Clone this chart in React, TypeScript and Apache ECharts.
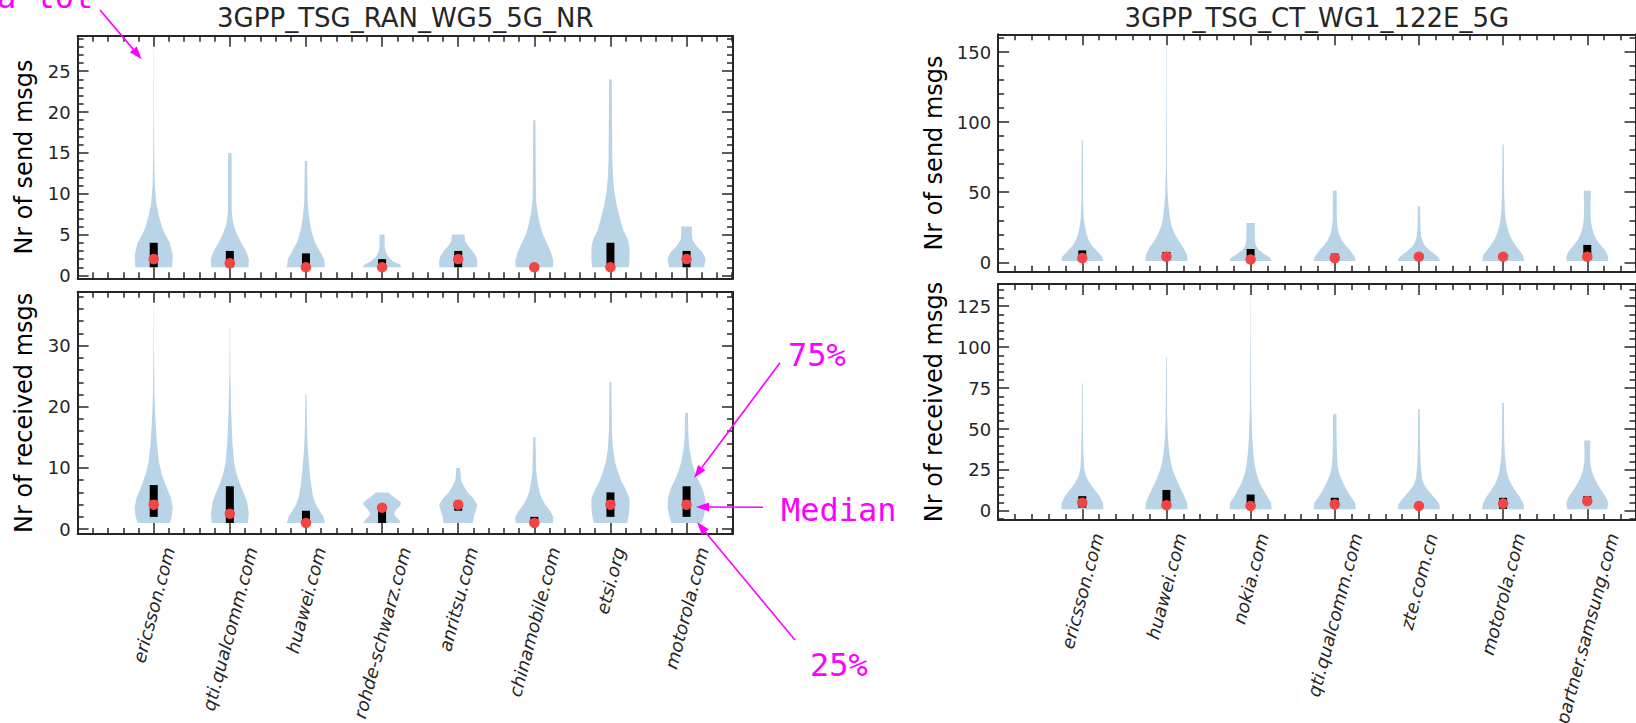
import React, { useEffect, useRef } from "react";
import * as echarts from "echarts";

// ---------------- data ----------------
const ranTitle = "3GPP_TSG_RAN_WG5_5G_NR";
const ctTitle = "3GPP_TSG_CT_WG1_122E_5G";
const sendName = "Nr of send msgs";
const recvName = "Nr of received msgs";

const ranCategories = ["ericsson.com", "qti.qualcomm.com", "huawei.com", "rohde-schwarz.com", "anritsu.com", "chinamobile.com", "etsi.org", "motorola.com"];
const ctCategories = ["ericsson.com", "huawei.com", "nokia.com", "qti.qualcomm.com", "zte.com.cn", "motorola.com", "partner.samsung.com"];

// violin outlines: [value, relative half width (1 = widest)]
const ranSendViolins = [
  [[1, 0.97], [2.5, 1.0], [4, 0.85], [5, 0.6], [6, 0.42], [7.5, 0.25], [9, 0.13], [11, 0.06], [14, 0.03], [20, 0.012], [28, 0.006]],
  [[1, 0.98], [2, 1.0], [3, 0.85], [4, 0.6], [5, 0.38], [6, 0.22], [7, 0.14], [8, 0.1], [15, 0.09]],
  [[1, 1.0], [2, 0.95], [3, 0.72], [4, 0.48], [5, 0.34], [6, 0.24], [7.5, 0.15], [9, 0.09], [14, 0.06]],
  [[1, 1.0], [1.3, 0.95], [1.7, 0.6], [2.2, 0.35], [2.8, 0.2], [3.5, 0.14], [5, 0.13]],
  [[1, 1.0], [1.8, 1.0], [2.4, 0.93], [3, 0.75], [3.6, 0.53], [4.2, 0.36], [5, 0.33]],
  [[1, 0.98], [1.8, 1.0], [3, 0.85], [4, 0.65], [5, 0.45], [6, 0.32], [7.5, 0.18], [9, 0.1], [11, 0.08], [19, 0.06]],
  [[1, 0.97], [2, 1.0], [3.5, 1.0], [4.5, 0.9], [5.5, 0.68], [7, 0.5], [8.5, 0.34], [10, 0.22], [11.5, 0.15], [14, 0.1], [24, 0.07]],
  [[1, 0.92], [2, 1.0], [2.8, 0.85], [3.5, 0.55], [4.3, 0.32], [5, 0.28], [6, 0.28]],
];
const ranSendQ1 = [1, 1, 1, 1, 1, 1, 1, 1];
const ranSendMedian = [2, 1.5, 1, 1, 2, 1, 1, 2];
const ranSendQ3 = [4, 3, 2.7, 2, 3, 1.1, 4, 3];

const ranRecvViolins = [
  [[1, 0.85], [2, 0.95], [3.5, 1.0], [5, 0.92], [7, 0.65], [9, 0.42], [11, 0.27], [14, 0.17], [18, 0.09], [22, 0.04], [30, 0.012], [37, 0.005]],
  [[1, 0.95], [2.5, 1.0], [4.5, 0.9], [6, 0.72], [7.5, 0.52], [9, 0.35], [11, 0.22], [14, 0.14], [19, 0.07], [25, 0.025], [33, 0.008]],
  [[1, 1.0], [2, 0.92], [3, 0.72], [4, 0.52], [5.5, 0.36], [7.5, 0.26], [10, 0.18], [13, 0.1], [17, 0.05], [22, 0.03]],
  [[1, 0.98], [1.5, 0.9], [2, 0.72], [2.6, 0.62], [3.2, 0.75], [3.8, 0.95], [4.3, 1.0], [5, 0.72], [5.6, 0.45], [6, 0.33]],
  [[1, 0.78], [2, 0.82], [3, 0.92], [4, 1.0], [5, 0.8], [6, 0.5], [7, 0.3], [8, 0.15], [10, 0.1]],
  [[1, 0.98], [2, 1.0], [3, 0.82], [4, 0.58], [5, 0.4], [6, 0.28], [7.5, 0.18], [9.5, 0.1], [15, 0.06]],
  [[1, 0.88], [2, 0.95], [3.5, 1.0], [5, 1.0], [6.5, 0.8], [8, 0.55], [9.5, 0.38], [11, 0.24], [13, 0.14], [16, 0.08], [24, 0.05]],
  [[1, 0.8], [2, 0.9], [3.5, 1.0], [5, 0.98], [6.5, 0.85], [8, 0.62], [9.5, 0.42], [11, 0.28], [13, 0.16], [15, 0.1], [19, 0.07]],
];
const ranRecvQ1 = [2, 1, 1, 1, 3, 1, 2, 2];
const ranRecvMedian = [4, 2.5, 1, 3.5, 4, 1, 4, 4];
const ranRecvQ3 = [7.2, 7, 3, 3.7, 4.2, 2, 6, 7];

const ctSendViolins = [
  [[1, 1.0], [4, 0.95], [8, 0.7], [12, 0.45], [16, 0.3], [20, 0.2], [26, 0.12], [32, 0.07], [45, 0.04], [87, 0.03]],
  [[1, 1.0], [5, 0.98], [10, 0.82], [15, 0.6], [20, 0.4], [25, 0.27], [30, 0.18], [40, 0.1], [50, 0.05], [70, 0.02], [155, 0.008]],
  [[1, 1.0], [3, 0.95], [6, 0.65], [9, 0.38], [12, 0.25], [15, 0.21], [20, 0.2], [28, 0.2]],
  [[1, 1.0], [4, 0.95], [8, 0.75], [12, 0.52], [16, 0.33], [20, 0.2], [25, 0.13], [30, 0.1], [51, 0.09]],
  [[1, 1.0], [3, 0.95], [5, 0.82], [8, 0.55], [11, 0.33], [14, 0.2], [18, 0.11], [25, 0.07], [40, 0.05]],
  [[1, 1.0], [5, 0.95], [9, 0.75], [13, 0.55], [17, 0.38], [22, 0.25], [28, 0.15], [35, 0.09], [50, 0.05], [84, 0.03]],
  [[1, 0.97], [4, 1.0], [8, 0.88], [12, 0.65], [16, 0.45], [20, 0.32], [25, 0.22], [30, 0.17], [40, 0.15], [51, 0.17]],
];
const ctSendQ1 = [2, 2, 1, 2, 3, 2, 2];
const ctSendMedian = [3, 4, 2, 3, 4, 4, 4];
const ctSendQ3 = [8.5, 7.4, 9.5, 6.2, 5, 5, 12.4];

const ctRecvViolins = [
  [[1, 1.0], [5, 0.98], [9, 0.82], [13, 0.58], [17, 0.35], [21, 0.18], [26, 0.09], [35, 0.05], [50, 0.03], [78, 0.02]],
  [[1, 1.0], [5, 0.98], [9, 0.85], [13, 0.7], [17, 0.55], [21, 0.42], [25, 0.3], [30, 0.2], [36, 0.13], [45, 0.07], [60, 0.03], [94, 0.015]],
  [[1, 1.0], [5, 0.97], [9, 0.78], [13, 0.6], [17, 0.43], [22, 0.3], [27, 0.21], [35, 0.13], [45, 0.08], [65, 0.03], [100, 0.012], [131, 0.006]],
  [[1, 1.0], [5, 0.97], [9, 0.75], [13, 0.55], [17, 0.4], [21, 0.26], [25, 0.17], [30, 0.12], [40, 0.09], [59, 0.08]],
  [[1, 1.0], [4, 0.97], [7, 0.82], [10, 0.6], [13, 0.4], [16, 0.25], [20, 0.14], [28, 0.08], [40, 0.05], [62, 0.04]],
  [[1, 1.0], [4, 0.97], [8, 0.82], [12, 0.6], [16, 0.4], [20, 0.26], [25, 0.16], [33, 0.09], [45, 0.05], [66, 0.04]],
  [[1, 0.95], [5, 1.0], [8, 0.9], [12, 0.7], [16, 0.5], [20, 0.34], [25, 0.2], [30, 0.14], [36, 0.13], [43, 0.15]],
];
const ctRecvQ1 = [2, 2, 2, 2, 2, 1.3, 5];
const ctRecvMedian = [5, 3.5, 3, 4, 3, 4.5, 6];
const ctRecvQ3 = [9, 12.8, 10, 8, 4, 8, 9];

const ranSendTicks = [0, 5, 10, 15, 20, 25];
const ranRecvTicks = [0, 10, 20, 30];
const ctSendTicks = [0, 50, 100, 150];
const ctRecvTicks = [0, 25, 50, 75, 100, 125];

// ---------------- styling ----------------
const FONT = "DejaVu Sans";
const MONO = "DejaVu Sans Mono";
const INK = "#262626";
const VIOLIN = "#b9d4e7";
const MEDIAN = "#f24545";
const MAGENTA = "#ff00ff";
const VIOLIN_HALF = 0.25;

const panels = [
  { grid: { left: 77.6, top: 35.7, width: 655.4, height: 242.6 }, xMax: 8.61, yMin: -0.35, yMax: 29.35, yMajor: ranSendTicks, yMinorStep: 1, cats: ranCategories, violins: ranSendViolins, q1: ranSendQ1, med: ranSendMedian, q3: ranSendQ3, showCats: false },
  { grid: { left: 77.6, top: 291.7, width: 655.4, height: 242.3 }, xMax: 8.61, yMin: -0.8, yMax: 38.8, yMajor: ranRecvTicks, yMinorStep: 2, cats: ranCategories, violins: ranRecvViolins, q1: ranRecvQ1, med: ranRecvMedian, q3: ranRecvQ3, showCats: true },
  { grid: { left: 998.1, top: 34.3, width: 637.4, height: 237.4 }, xMax: 7.573, yMin: -6.7, yMax: 162.7, yMajor: ctSendTicks, yMinorStep: 10, cats: ctCategories, violins: ctSendViolins, q1: ctSendQ1, med: ctSendMedian, q3: ctSendQ3, showCats: false },
  { grid: { left: 998.1, top: 284, width: 637.4, height: 236 }, xMax: 7.573, yMin: -5.55, yMax: 138.55, yMajor: ctRecvTicks, yMinorStep: 5, cats: ctCategories, violins: ctRecvViolins, q1: ctRecvQ1, med: ctRecvMedian, q3: ctRecvQ3, showCats: true },
];

function minorTicks(min: number, max: number, step: number, majors: number[]) {
  const out: number[] = [];
  const start = Math.ceil(min / step - 1e-9);
  const end = Math.floor(max / step + 1e-9);
  for (let k = start; k <= end; k++) {
    const v = +(k * step).toFixed(6);
    if (v <= min + 1e-9) continue;
    if (majors.some((m) => Math.abs(m - v) < 1e-9)) continue;
    out.push(v);
  }
  return out;
}

let measureCtx: CanvasRenderingContext2D | null = null;
function textWidth(t: string, font: string) {
  if (!measureCtx) measureCtx = document.createElement("canvas").getContext("2d");
  if (!measureCtx) return t.length * 10;
  measureCtx.font = font;
  return measureCtx.measureText(t).width;
}

function axis(gridIndex: number, position: string, min: number, max: number, ticks: number[], len: number, showLine: boolean, showLabel: boolean) {
  return {
    type: "value",
    gridIndex,
    position,
    min,
    max,
    axisLine: { show: showLine, onZero: false, lineStyle: { color: INK, width: 2 } },
    axisTick: { show: true, inside: true, length: len, customValues: ticks, lineStyle: { color: INK, width: 1.5 } },
    axisLabel: showLabel
      ? { show: true, customValues: ticks, fontSize: 18, fontFamily: FONT, color: INK, margin: 7 }
      : { show: false },
    splitLine: { show: false },
    minorTick: { show: false },
  };
}

function arrow(x1: number, y1: number, x2: number, y2: number) {
  const dx = x2 - x1, dy = y2 - y1;
  const len = Math.hypot(dx, dy);
  const ux = dx / len, uy = dy / len;
  const hl = 13, hw = 4.5;
  const bx = x2 - ux * hl, by = y2 - uy * hl;
  return [
    { type: "line", shape: { x1, y1, x2: bx, y2: by }, style: { stroke: MAGENTA, lineWidth: 1.6 }, z: 100 },
    { type: "polygon", shape: { points: [[x2, y2], [bx - uy * hw, by + ux * hw], [bx + uy * hw, by - ux * hw]] }, style: { fill: MAGENTA }, z: 100 },
  ];
}

function buildOption() {
  const grid: any[] = [];
  const xAxis: any[] = [];
  const yAxis: any[] = [];
  const series: any[] = [];
  const LABEL_FONT = `italic 18px "${FONT}"`;
  const theta = (75 * Math.PI) / 180;

  panels.forEach((p, k) => {
    grid.push({ ...p.grid });
    const xMajor = p.cats.map((_, i) => i + 1);
    const xMinor = minorTicks(0, p.xMax, 0.2, xMajor);
    const yMinor = minorTicks(p.yMin, p.yMax, p.yMinorStep, p.yMajor);
    xAxis.push(axis(k, "bottom", 0, p.xMax, xMajor, 11, true, false));
    xAxis.push(axis(k, "bottom", 0, p.xMax, xMinor, 6, false, false));
    xAxis.push(axis(k, "top", 0, p.xMax, xMajor, 11, true, false));
    xAxis.push(axis(k, "top", 0, p.xMax, xMinor, 6, false, false));
    yAxis.push(axis(k, "left", p.yMin, p.yMax, p.yMajor, 11, true, true));
    yAxis.push(axis(k, "left", p.yMin, p.yMax, yMinor, 6, false, false));
    yAxis.push(axis(k, "right", p.yMin, p.yMax, p.yMajor, 11, true, false));
    yAxis.push(axis(k, "right", p.yMin, p.yMax, yMinor, 6, false, false));

    const xi = 4 * k, yi = 4 * k;
    const data = p.cats.map((_, i) => [i + 1, p.med[i]]);

    series.push({
      type: "custom",
      xAxisIndex: xi,
      yAxisIndex: yi,
      silent: true,
      z: 2,
      data,
      renderItem: (params: any, api: any) => {
        const i = params.dataIndex;
        const pos = i + 1;
        const prof = p.violins[i];
        const pts: number[][] = [];
        for (const [v, w] of prof) pts.push(api.coord([pos - w * VIOLIN_HALF, v]));
        for (let j = prof.length - 1; j >= 0; j--) {
          const [v, w] = prof[j];
          pts.push(api.coord([pos + w * VIOLIN_HALF, v]));
        }
        return { type: "polygon", shape: { points: pts }, style: { fill: VIOLIN } };
      },
    });

    series.push({
      type: "custom",
      xAxisIndex: xi,
      yAxisIndex: yi,
      silent: true,
      z: 3,
      data,
      renderItem: (params: any, api: any) => {
        const i = params.dataIndex;
        const pos = i + 1;
        const top = api.coord([pos, p.q3[i]]);
        const bot = api.coord([pos, p.q1[i]]);
        return {
          type: "rect",
          shape: { x: top[0] - 4, y: top[1], width: 8, height: Math.max(bot[1] - top[1], 0.5) },
          style: { fill: "#000" },
        };
      },
    });

    series.push({
      type: "scatter",
      xAxisIndex: xi,
      yAxisIndex: yi,
      silent: true,
      z: 4,
      symbol: "circle",
      symbolSize: 10.5,
      itemStyle: { color: MEDIAN, opacity: 1 },
      data,
    });

    if (p.showCats) {
      series.push({
        type: "custom",
        xAxisIndex: xi,
        yAxisIndex: yi,
        silent: true,
        clip: false,
        z: 5,
        data,
        renderItem: (params: any, api: any) => {
          const i = params.dataIndex;
          const text = p.cats[i];
          const [x, y] = api.coord([i + 1, p.yMin]);
          const L = textWidth(text, LABEL_FONT);
          const h = 21;
          const hb = L * Math.sin(theta) + h * Math.cos(theta);
          return {
            type: "text",
            x,
            y: y + 11 + hb / 2,
            rotation: theta,
            style: { text, font: LABEL_FONT, fill: INK, align: "center", verticalAlign: "middle" },
          };
        },
      });
    }
  });

  const cx = (g: any) => g.left + g.width / 2;
  const cy = (g: any) => g.top + g.height / 2;

  const graphic: any[] = [
    { type: "text", x: cx(panels[0].grid), y: 17.5, style: { text: ranTitle, font: `26px "${FONT}"`, fill: INK, align: "center", verticalAlign: "middle" } },
    { type: "text", x: cx(panels[2].grid), y: 17.5, style: { text: ctTitle, font: `26px "${FONT}"`, fill: INK, align: "center", verticalAlign: "middle" } },
    { type: "text", x: 24, y: cy(panels[0].grid), rotation: Math.PI / 2, style: { text: sendName, font: `24px "${FONT}"`, fill: "#000", align: "center", verticalAlign: "middle" } },
    { type: "text", x: 24, y: cy(panels[1].grid), rotation: Math.PI / 2, style: { text: recvName, font: `24px "${FONT}"`, fill: "#000", align: "center", verticalAlign: "middle" } },
    { type: "text", x: 934, y: cy(panels[2].grid), rotation: Math.PI / 2, style: { text: sendName, font: `24px "${FONT}"`, fill: "#000", align: "center", verticalAlign: "middle" } },
    { type: "text", x: 934, y: cy(panels[3].grid), rotation: Math.PI / 2, style: { text: recvName, font: `24px "${FONT}"`, fill: "#000", align: "center", verticalAlign: "middle" } },
    // annotations
    { type: "text", x: -3, y: -3.5, z: 100, style: { text: "a lot", font: `32px "${MONO}"`, fill: MAGENTA, align: "left", verticalAlign: "middle" } },
    { type: "text", x: 788, y: 355, z: 100, style: { text: "75%", font: `32px "${MONO}"`, fill: MAGENTA, align: "left", verticalAlign: "middle" } },
    { type: "text", x: 781, y: 510, z: 100, style: { text: "Median", font: `32px "${MONO}"`, fill: MAGENTA, align: "left", verticalAlign: "middle" } },
    { type: "text", x: 810, y: 664.5, z: 100, style: { text: "25%", font: `32px "${MONO}"`, fill: MAGENTA, align: "left", verticalAlign: "middle" } },
    ...arrow(100, 10, 141.7, 59.3),
    ...arrow(780, 362.7, 694, 478),
    ...arrow(763, 507.3, 696, 507),
    ...arrow(795, 640, 697, 522),
  ];

  return {
    animation: false,
    backgroundColor: "#ffffff",
    grid,
    xAxis,
    yAxis,
    series,
    graphic,
  };
}

export default function App() {
  const ref = useRef<HTMLDivElement>(null);
  useEffect(() => {
    if (!ref.current) return;
    const chart = echarts.init(ref.current, null, { renderer: "svg" });
    chart.setOption(buildOption() as any);
    return () => chart.dispose();
  }, []);
  return <div ref={ref} style={{ position: "absolute", left: 0, top: 0, width: 1636, height: 723, background: "#fff" }} />;
}
